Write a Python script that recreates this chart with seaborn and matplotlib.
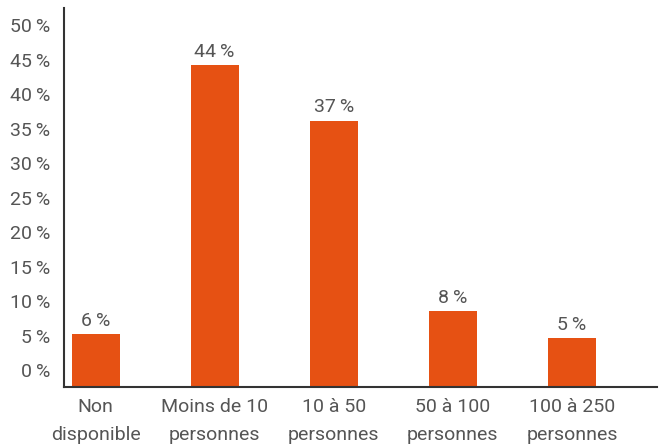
import matplotlib
matplotlib.use("Agg")
import matplotlib.pyplot as plt
import pandas as pd
import seaborn as sns

categories = ["Non\ndisponible", "Moins de 10\npersonnes", "10 à 50\npersonnes",
              "50 à 100\npersonnes", "100 à 250\npersonnes"]
shares = [5.2, 44.2, 36.2, 8.6, 4.6]
share_labels = ["6\u2009%", "44\u2009%", "37\u2009%", "8\u2009%", "5\u2009%"]
yticks = [0, 5, 10, 15, 20, 25, 30, 35, 40, 45, 50]

ORANGE = "#E65113"
TEXT = "#555555"
FLOOR = -2.4

sns.set_theme(style="white")
plt.rcParams["font.family"] = ["Roboto", "DejaVu Sans"]

df = pd.DataFrame({"cat": categories, "share": shares})

fig = plt.figure(figsize=(6.6, 4.48), dpi=100)
ax = fig.add_axes([0.0974, 0.1368, 0.898, 0.845])
sns.barplot(data=df, x="cat", y="share", color=ORANGE, saturation=1,
            width=0.403, linewidth=0, ax=ax)

# bars in the source start at the axis floor, below the 0 % tick
for p, lab in zip(ax.patches, share_labels):
    top = p.get_height()
    p.set_y(FLOOR)
    p.set_height(top - FLOOR)
    ax.annotate(lab, (p.get_x() + p.get_width() / 2, top), xytext=(0, 3),
                textcoords="offset points", ha="center", va="bottom",
                fontsize=14, color=TEXT)

ax.set_xlim(-0.263, 4.714)
ax.set_ylim(FLOOR, 52.5)
ax.set_yticks(yticks)
ax.set_yticklabels([f"{t}\u2009%" for t in yticks])
ax.set_xlabel("")
ax.set_ylabel("")
ax.tick_params(axis="both", length=0, labelsize=14, labelcolor=TEXT)
ax.tick_params(axis="y", pad=10)
ax.tick_params(axis="x", pad=8)
for lab in ax.get_xticklabels():
    lab.set_linespacing(1.7)

sns.despine(ax=ax)
for s in ["left", "bottom"]:
    ax.spines[s].set_color("#333333")
    ax.spines[s].set_linewidth(1.5)

fig.savefig("out.png", dpi=100)
